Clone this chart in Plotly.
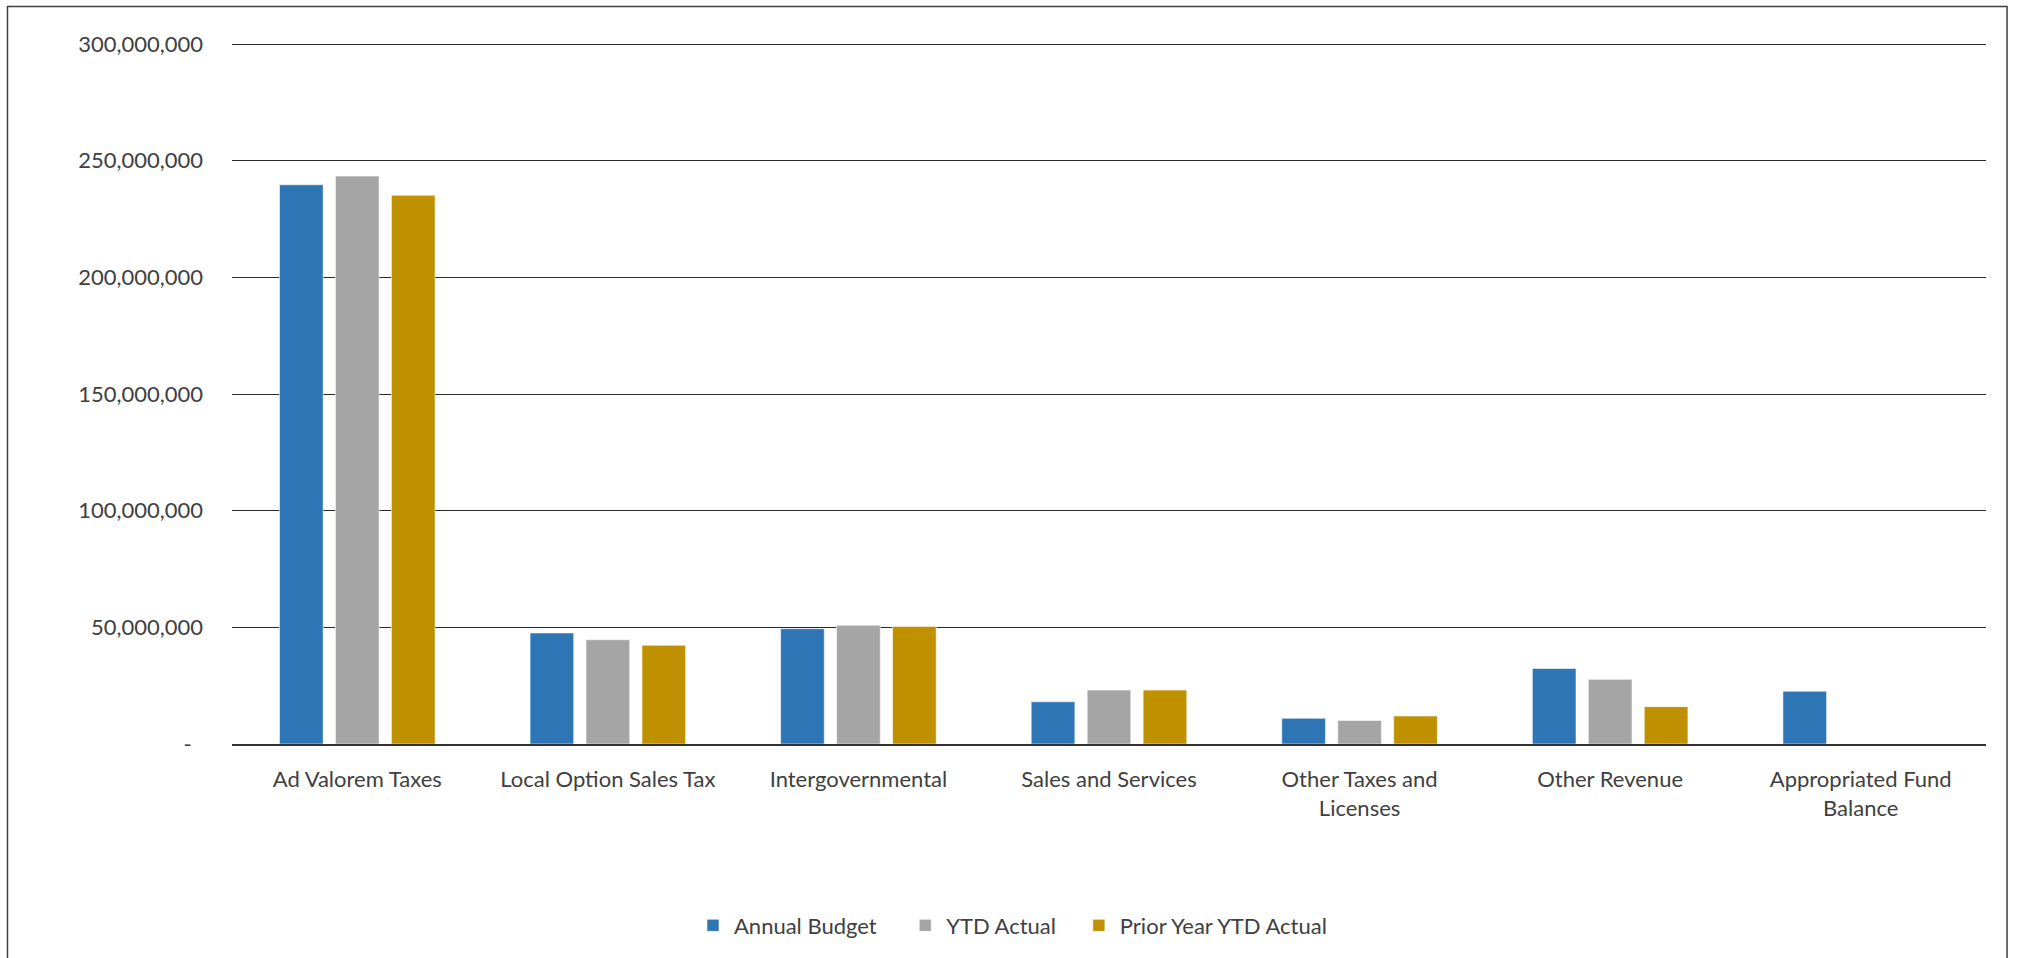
import plotly.graph_objects as go

# Revenue categories and the three series compared for each
categories = [
    "Ad Valorem Taxes",
    "Local Option Sales Tax",
    "Intergovernmental",
    "Sales and Services",
    "Other Taxes and Licenses",
    "Other Revenue",
    "Appropriated Fund Balance",
]
category_labels = [
    "Ad Valorem Taxes",
    "Local Option Sales Tax",
    "Intergovernmental",
    "Sales and Services",
    "Other Taxes and<br>Licenses",
    "Other Revenue",
    "Appropriated Fund<br>Balance",
]

annual_budget = [239_700_000, 47_600_000, 49_400_000, 18_100_000, 11_000_000, 32_400_000, 22_600_000]
ytd_actual = [243_400_000, 44_700_000, 50_900_000, 23_100_000, 10_100_000, 27_700_000, None]
prior_year_ytd = [235_200_000, 42_300_000, 50_400_000, 23_100_000, 12_000_000, 16_000_000, None]

y_tick_values = [0, 50_000_000, 100_000_000, 150_000_000, 200_000_000, 250_000_000, 300_000_000]
y_tick_labels = ["-\u00a0\u00a0", "50,000,000", "100,000,000", "150,000,000",
                 "200,000,000", "250,000,000", "300,000,000"]

NBSP = "\u00a0"
series = [
    ("Annual Budget" + NBSP * 4, annual_budget, "#2E75B6"),
    ("YTD Actual" + NBSP * 3, ytd_actual, "#A5A5A5"),
    ("Prior Year YTD Actual", prior_year_ytd, "#BF9000"),
]

FONT = "Lato, 'Open Sans', sans-serif"
TEXT = "#404040"
GRID = "#2a2a2a"

fig = go.Figure()
for name, values, color in series:
    fig.add_trace(go.Bar(
        name=name,
        x=categories,
        y=values,
        marker=dict(color=color, line=dict(color="rgba(255,255,255,0.55)", width=1)),
    ))

fig.update_layout(
    width=2023,
    height=958,
    margin=dict(l=232, r=37, t=43, b=212),
    paper_bgcolor="white",
    plot_bgcolor="white",
    barmode="group",
    bargap=0.33,
    bargroupgap=0.22,
    font=dict(family=FONT, size=22, color=TEXT),
    showlegend=True,
    legend=dict(
        orientation="h",
        x=0.4447,
        xanchor="center",
        y=-0.259,
        yanchor="middle",
        itemwidth=32,
        font=dict(family=FONT, size=22, color=TEXT),
        traceorder="normal",
    ),
    xaxis=dict(
        tickmode="array",
        tickvals=categories,
        ticktext=category_labels,
        showgrid=False,
        showline=True,
        linecolor="#333333",
        linewidth=2,
        ticks="",
        tickangle=0,
        ticklabelstandoff=15,
        tickfont=dict(family=FONT, size=22, color=TEXT),
    ),
    yaxis=dict(
        range=[0, 300_450_000],
        tickmode="array",
        tickvals=y_tick_values,
        ticktext=y_tick_labels,
        showgrid=True,
        gridcolor=GRID,
        gridwidth=1.4,
        zeroline=False,
        showline=False,
        ticks="",
        ticklabelstandoff=28,
        tickfont=dict(family=FONT, size=22, color=TEXT),
    ),
    shapes=[
        dict(
            type="rect",
            xref="paper",
            yref="paper",
            x0=-0.128,
            x1=1.012,
            y0=-0.5,
            y1=1.052,
            line=dict(color="#3f3f3f", width=1.5),
            fillcolor="rgba(0,0,0,0)",
            layer="below",
        )
    ],
)

fig.write_html("out.html")
